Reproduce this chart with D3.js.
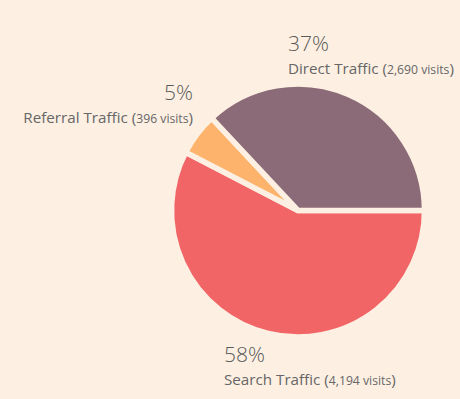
<!DOCTYPE html>
<html><head><meta charset="utf-8">
<script src="https://cdn.jsdelivr.net/npm/d3@7/dist/d3.min.js"></script>
<style>
html,body{margin:0;padding:0;background:#fdf0e3;}
svg{display:block;}
</style></head>
<body>
<svg id="chart" width="460" height="399"></svg>
<script>
const categories = ["Search Traffic", "Referral Traffic", "Direct Traffic"];
const visits = [4194, 396, 2690];
const percentLabels = ["58%", "5%", "37%"];
const visitLabels = ["4,194 visits", "396 visits", "2,690 visits"];
const colors = ["#f26567", "#fdb36b", "#8b6b77"];

const svg = d3.select("#chart");
const W = 460, H = 399, bg = "#fdf0e3";
svg.append("rect").attr("width", W).attr("height", H).attr("fill", bg);

const cx = 298, cy = 210.5, R = 126.5;
const data = categories.map((c, i) => ({ name: c, value: visits[i], pct: percentLabels[i], vis: visitLabels[i], color: colors[i] }));

const pie = d3.pie().sort(null).value(d => d.value)
  .startAngle(Math.PI / 2).endAngle(Math.PI / 2 + 2 * Math.PI);
const arc = d3.arc().innerRadius(0).outerRadius(R);

const g = svg.append("g").attr("transform", `translate(${cx},${cy})`);
g.selectAll("path").data(pie(data)).join("path")
  .attr("d", arc)
  .attr("fill", d => d.data.color)
  .attr("stroke", bg)
  .attr("stroke-width", 5.5)
  .attr("stroke-linejoin", "miter");

// label placement (anchor point, alignment) per category
const labelPos = {
  "Direct Traffic": { x: 288, y: 51, anchor: "start" },
  "Referral Traffic": { x: 193, y: 100, anchor: "end" },
  "Search Traffic": { x: 224, y: 362, anchor: "start" }
};

data.forEach(d => {
  const p = labelPos[d.name];
  svg.append("text")
    .attr("x", p.x).attr("y", p.y)
    .attr("text-anchor", p.anchor)
    .attr("font-family", "'Open Sans', sans-serif")
    .attr("font-weight", 300)
    .attr("font-size", 21)
    .attr("fill", "#595959")
    .text(d.pct);
  const t = svg.append("text")
    .attr("x", p.x).attr("y", p.y + 23)
    .attr("text-anchor", p.anchor)
    .attr("font-family", "'Open Sans', sans-serif")
    .attr("font-size", 15.2)
    .attr("fill", "#666");
  t.append("tspan").text(d.name + " (");
  t.append("tspan").attr("font-size", 12.2).text(d.vis);
  t.append("tspan").text(")");
});
</script>
</body></html>
